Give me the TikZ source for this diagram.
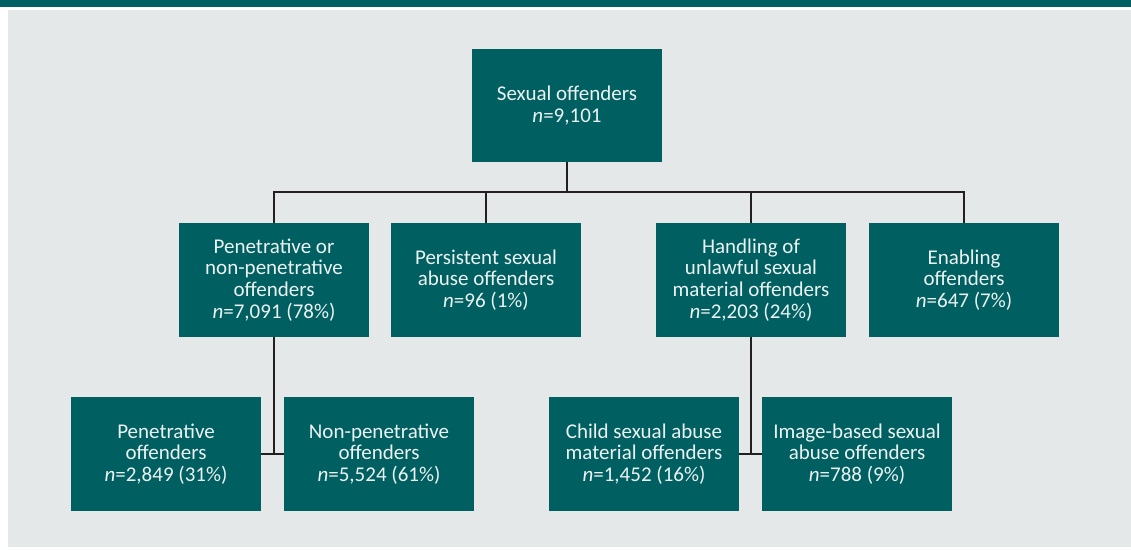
\documentclass[tikz,border=0pt]{standalone}
\usepackage{fontspec}
\setmainfont{Carlito}
\usetikzlibrary{positioning,calc}
\definecolor{boxteal}{RGB}{0,95,96}
\definecolor{panelgrey}{RGB}{228,232,232}
\definecolor{linedark}{RGB}{35,31,32}
\definecolor{boxtext}{RGB}{236,242,242}
\tikzstyle{Obox}=[shape=rectangle,fill=boxteal,text=boxtext,minimum width=190pt,minimum height=114pt,inner sep=0pt,align=center,font=\fontsize{21}{21.7}\selectfont]
\tikzstyle{link}=[draw=linedark,line width=2.2pt]

\begin{document}
\begin{tikzpicture}[x=1pt,y=-1pt]
 \useasboundingbox (0,0) rectangle (1131,549);
 \fill[boxteal] (0,0) rectangle (1131,7);
 \fill[panelgrey] (8,10) rectangle (1131,547);

 % top of the tree
 \node[Obox,minimum height=113pt] (sexoff) at (567,105.5) {Sexual offenders\\\textit{n}=9,101};

 % second row
 \node[Obox] (pnp) at (274,280) {Penetrative or\\non-penetrative\\offenders\\\textit{n}=7,091 (78\%)};
 \node[Obox] (pers) at (486,280) {Persistent sexual\\abuse offenders\\\textit{n}=96 (1\%)};
 \node[Obox] (hum) at (751,280) {Handling of\\unlawful sexual\\material offenders\\\textit{n}=2,203 (24\%)};
 \node[Obox] (enab) at (964,280) {Enabling\\offenders\\\textit{n}=647 (7\%)};

 % third row
 \node[Obox] (pen) at (166,454) {Penetrative\\offenders\\\textit{n}=2,849 (31\%)};
 \node[Obox] (nonpen) at (379,454) {Non-penetrative\\offenders\\\textit{n}=5,524 (61\%)};
 \node[Obox] (csam) at (644,454) {Child sexual abuse\\material offenders\\\textit{n}=1,452 (16\%)};
 \node[Obox] (ibsa) at (857,454) {Image-based sexual\\abuse offenders\\\textit{n}=788 (9\%)};

 \coordinate (hbar) at (567,192);

 \draw[link] (sexoff.south) -- (hbar);
 \draw[link] (pnp.north) |- (hbar);
 \draw[link] (enab.north) |- (hbar);
 \draw[link] (pers.north) -- (pers.north |- hbar);
 \draw[link] (hum.north) -- (hum.north |- hbar);

 \draw[link] (pnp.south) |- (pen.east);
 \draw[link] (pen.east) -- (nonpen.west);
 \draw[link] (hum.south) |- (csam.east);
 \draw[link] (csam.east) -- (ibsa.west);
\end{tikzpicture}
\end{document}
